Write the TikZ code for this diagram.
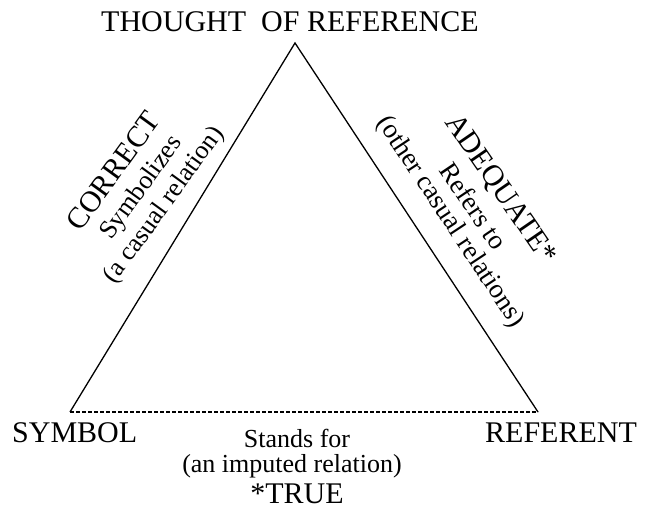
\documentclass[tikz,border=0pt]{standalone}
\usepackage{fontspec}
\setmainfont{Liberation Serif}
\begin{document}
\begin{tikzpicture}[x=1pt,y=-1pt,
  big/.style={inner sep=0pt,font=\fontsize{30}{36}\selectfont},
  small/.style={inner sep=0pt,font=\fontsize{26}{31}\selectfont},
  smallr/.style={inner sep=0pt,font=\fontsize{27}{32}\selectfont},
  edge/.style={line width=1.3pt},
  dashedge/.style={line width=1.2pt,dash pattern=on 4pt off 2pt}]
\useasboundingbox (0,0) rectangle (649,510);
% corners
\coordinate (apex) at (295,43);
\coordinate (lft) at (70,412);
\coordinate (rgt) at (538,412);
\draw[edge] (lft) -- (apex) -- (rgt);
\draw[dashedge] (lft) -- (rgt);
% vertex labels
\node[big,anchor=base] (thought) at (290,32) {THOUGHT\ \ OF REFERENCE};
\node[big,anchor=base west] (symbol) at (12,443) {SYMBOL};
\node[big,anchor=base west] (referent) at (485,443) {REFERENT};
% left side
\node[big,rotate=54] (correct) at (113,171) {CORRECT};
\node[small,rotate=54] (symbolizes) at (142,188) {Symbolizes};
\node[small,rotate=54] (casual) at (164.5,205.5) {(a casual relation)};
% right side
\node[big,rotate=-55.5] (adequate) at (500,190) {ADEQUATE*};
\node[smallr,rotate=-56] (refers) at (474,206) {Refers to};
\node[smallr,rotate=-56.5] (other) at (450,222) {(other casual relations)};
% bottom
\node[small,anchor=base] (stands) at (297,448) {Stands for};
\node[small,anchor=base] (imputed) at (292,473) {(an imputed relation)};
\node[big,anchor=base] (true) at (297,504) {*TRUE};
\end{tikzpicture}
\end{document}
